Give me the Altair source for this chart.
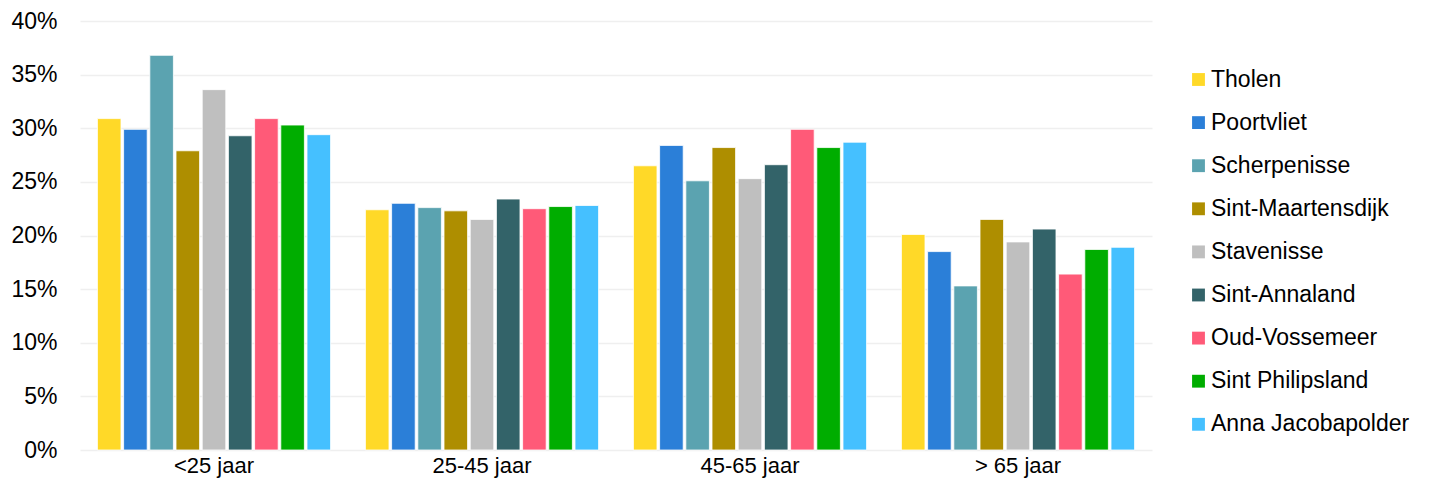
import altair as alt
import pandas as pd

groups = ["<25 jaar", "25-45 jaar", "45-65 jaar", "> 65 jaar"]
places = ["Tholen", "Poortvliet", "Scherpenisse", "Sint-Maartensdijk", "Stavenisse",
          "Sint-Annaland", "Oud-Vossemeer", "Sint Philipsland", "Anna Jacobapolder"]
colors = ["#FFD928", "#2B7FD8", "#5BA3B0", "#AE8E00", "#BFBFBF",
          "#336369", "#FF5A78", "#00AD00", "#45C0FF"]

v_lt25 = [30.9, 29.9, 36.8, 27.9, 33.6, 29.3, 30.9, 30.3, 29.4]
v_25_45 = [22.4, 23.0, 22.6, 22.3, 21.5, 23.4, 22.5, 22.7, 22.8]
v_45_65 = [26.5, 28.4, 25.1, 28.2, 25.3, 26.6, 29.9, 28.2, 28.7]
v_gt65 = [20.1, 18.5, 15.3, 21.5, 19.4, 20.6, 16.4, 18.7, 18.9]

series = [v_lt25, v_25_45, v_45_65, v_gt65]
rows = []
for g, vals in zip(groups, series):
    for p, v in zip(places, vals):
        rows.append({"groep": g, "plaats": p, "waarde": v / 100})
df = pd.DataFrame(rows)

FONT = "Liberation Sans"
FS = 23

chart = alt.Chart(df).mark_bar(stroke="white", strokeWidth=0.8).encode(
    x=alt.X("groep:N", sort=groups, title=None,
            scale=alt.Scale(paddingInner=0.13, paddingOuter=0.065),
            axis=alt.Axis(labelAngle=0, domain=False, ticks=False, labelPadding=5,
                          labelFontSize=22, labelFont=FONT, labelColor="#000000")),
    xOffset=alt.XOffset("plaats:N", sort=places,
                        scale=alt.Scale(paddingInner=0.1, paddingOuter=0)),
    y=alt.Y("waarde:Q", title=None,
            scale=alt.Scale(domain=[0, 0.4]),
            axis=alt.Axis(format=".0%", values=[0, 0.05, 0.1, 0.15, 0.2, 0.25, 0.3, 0.35, 0.4],
                          domain=False, ticks=False, labelPadding=23,
                          labelFontSize=FS, labelFont=FONT, labelColor="#000000",
                          gridColor="#EFEFEF", gridWidth=1.5)),
    color=alt.Color("plaats:N", sort=places,
                    scale=alt.Scale(domain=places, range=colors),
                    legend=alt.Legend(title=None, orient="none", legendX=1107, legendY=47,
                                      symbolType="square", symbolSize=165,
                                      symbolStrokeWidth=0, labelFontSize=FS,
                                      labelFont=FONT, labelColor="#000000",
                                      rowPadding=19.1, labelOffset=1, padding=0,
                                      labelLimit=300)),
).properties(
    width=1072, height=429,
    autosize=alt.AutoSizeParams(type="none"),
    padding={"left": 72, "top": 13, "right": 272, "bottom": 32},
).configure_view(stroke=None)

chart.save("out.html", embed_options={"renderer": "svg", "actions": False})
